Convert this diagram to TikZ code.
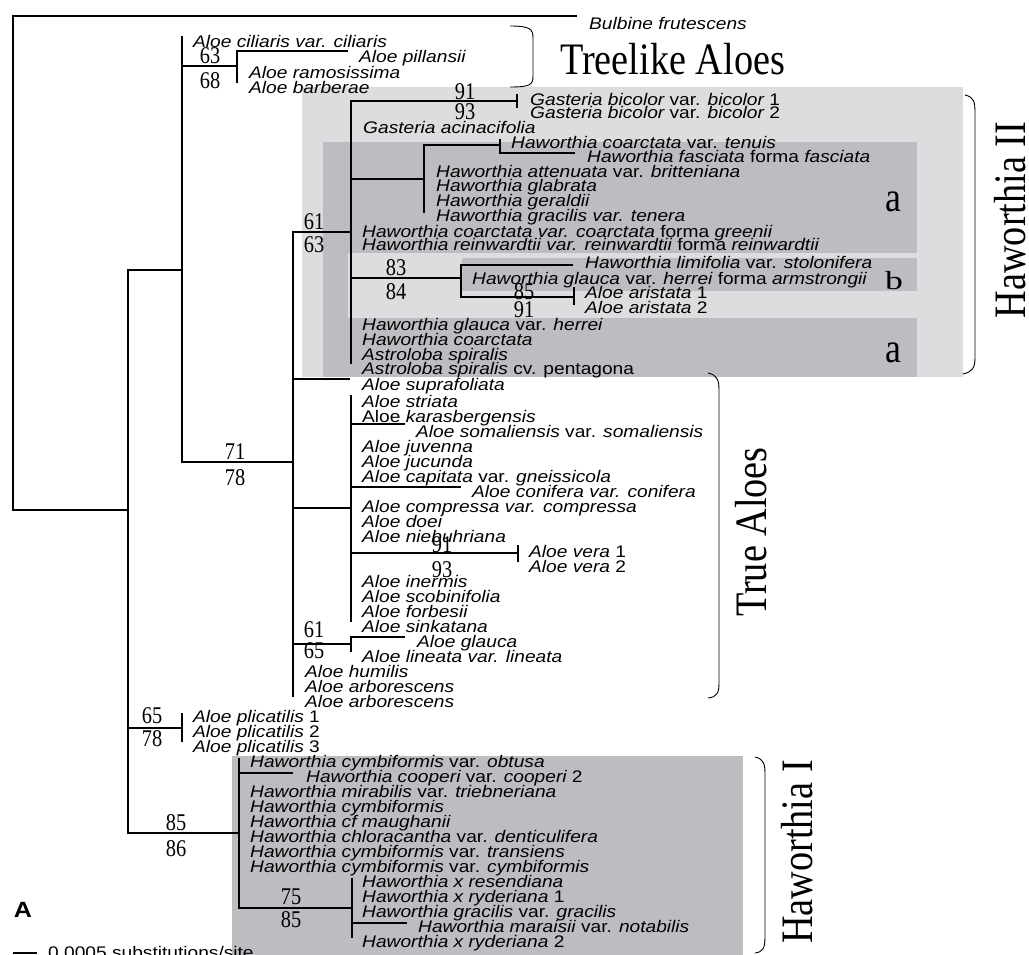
\documentclass[tikz,border=0pt]{standalone}
\usepackage{fontspec}
\usepackage{graphicx}
\newfontfamily\taxfont[FakeStretch=1.14]{Liberation Sans}
\newfontfamily\grpfont[FakeStretch=0.85]{Liberation Serif}
\usetikzlibrary{calc}
\definecolor{grplight}{HTML}{DCDDDF}
\definecolor{grpdark}{HTML}{BCBDC1}
\newcommand{\ro}[1]{{\upshape #1}}

\begin{document}
\begin{tikzpicture}[x=1pt,y=-1pt,
  branch/.style={line width=1.9pt},
  brace/.style={line width=0.9pt},
  taxon/.style={anchor=base west, inner sep=0pt, font=\taxfont\fontsize{16.8}{17}\selectfont\itshape},
  boot/.style={inner sep=0pt, font=\grpfont\fontsize{24}{24}\selectfont},
  clade/.style={inner sep=0pt, font=\grpfont\fontsize{45}{45}\selectfont},
  subclade/.style={inner sep=0pt, font=\grpfont\fontsize{42}{42}\selectfont}]
\useasboundingbox (0,0) rectangle (1029,955);

% shaded groups
\fill[grplight] (302,87) rectangle (963,377);
\fill[grpdark] (323,142) rectangle (917,377);
\fill[grplight] (348,253) rectangle (917,318);
\fill[grpdark] (462,258) rectangle (917,291);
\fill[grpdark] (232,756) rectangle (743,955);

% internal nodes and tips
\coordinate (bulb) at (577,16);
\coordinate (root) at (13,510);
\coordinate (n1) at (128,510);
\coordinate (n2) at (182,270);
\coordinate (cil) at (182,36);
\coordinate (n3) at (237,66);
\coordinate (n3b) at (237,83);
\coordinate (pil) at (348,51);
\coordinate (n4) at (293,462);
\coordinate (n4b) at (293,697);
\coordinate (supr) at (350,379);
\coordinate (n5) at (351,232);
\coordinate (n5b) at (351,364);
\coordinate (n6) at (517,101);
\coordinate (n7) at (424,179);
\coordinate (n7b) at (424,213);
\coordinate (n8) at (500,145);
\coordinate (n8t) at (500,139);
\coordinate (fasc) at (575,153);
\coordinate (n9) at (461,278);
\coordinate (limi) at (573,265);
\coordinate (n10) at (574,297);
\coordinate (n11) at (351,508);
\coordinate (n11t) at (351,395);
\coordinate (n11b) at (351,622);
\coordinate (soma) at (405,424);
\coordinate (coni) at (461,487);
\coordinate (n12) at (518,553);
\coordinate (n13) at (351,644);
\coordinate (n13b) at (351,652);
\coordinate (glau) at (405,637);
\coordinate (n14) at (182,728);
\coordinate (n15) at (239,833);
\coordinate (n15t) at (239,758);
\coordinate (coop) at (293,773);
\coordinate (n16) at (352,908);
\coordinate (n16t) at (352,878);
\coordinate (n16b) at (352,938);
\coordinate (mara) at (407,923);

% branches
\draw[branch] (bulb) -| (root) -- (n1);
\draw[branch] (n2) -| (n1) |- (n15);
\draw[branch] (n1 |- n14) -- (n14);
\draw[branch] (cil) -- (n2) |- (n4);
\draw[branch] (n2 |- n3) -- (n3);
\draw[branch] (pil) -| (n3b);
\draw[branch] (n5) -| (n4b);
\draw[branch] (n4 |- supr) -- (supr);
\draw[branch] (n4 |- n11) -- (n11);
\draw[branch] (n4 |- n13) -- (n13);
\draw[branch] (n6) -| (n5b);
\draw[branch] (n5 |- n7) -- (n7);
\draw[branch] (n5 |- n9) -- (n9);
\draw[branch] ($(n6)+(0,-7)$) -- ($(n6)+(0,7)$);
\draw[branch] (n8) -| (n7b);
\draw[branch] (n8t) -- (n8) |- (fasc);
\draw[branch] (limi) -| (n9) |- (n10);
\draw[branch] ($(n10)+(0,-10)$) -- ($(n10)+(0,8)$);
\draw[branch] (n11t) -- (n11b);
\draw[branch] (n11 |- soma) -- (soma);
\draw[branch] (n11 |- coni) -- (coni);
\draw[branch] (n11 |- n12) -- (n12);
\draw[branch] ($(n12)+(0,-8)$) -- ($(n12)+(0,9)$);
\draw[branch] (glau) -| (n13b);
\draw[branch] ($(n14)+(0,-15)$) -- ($(n14)+(0,14)$);
\draw[branch] (n15t) -- (n15) |- (n16);
\draw[branch] (n15 |- coop) -- (coop);
\draw[branch] (n16t) -- (n16b);
\draw[branch] (n16 |- mara) -- (mara);

% bootstrap values
\node[boot] (b1a) at (210,56) {63};
\node[boot] (b1b) at (210,81) {68};
\node[boot] (b2a) at (465,92) {91};
\node[boot] (b2b) at (465,112) {93};
\node[boot] (b3a) at (314,222) {61};
\node[boot] (b3b) at (314,245) {63};
\node[boot] (b4a) at (396,268) {83};
\node[boot] (b4b) at (396,292) {84};
\node[boot] (b5a) at (524,292) {85};
\node[boot] (b5b) at (524,310) {91};
\node[boot] (b6a) at (235,452) {71};
\node[boot] (b6b) at (235,478) {78};
\node[boot] (b7a) at (442,545) {91};
\node[boot] (b7b) at (442,570) {93};
\node[boot] (b8a) at (314,630) {61};
\node[boot] (b8b) at (314,651) {65};
\node[boot] (b9a) at (152,716) {65};
\node[boot] (b9b) at (152,739) {78};
\node[boot] (b10a) at (176,823) {85};
\node[boot] (b10b) at (176,849) {86};
\node[boot] (b11a) at (291,897) {75};
\node[boot] (b11b) at (291,920) {85};

% taxa
\node[taxon] (t00) at (589,30) {Bulbine frutescens};
\node[taxon] (t01) at (193,47.5) {Aloe ciliaris var. ciliaris};
\node[taxon] (t02) at (359,62.5) {Aloe pillansii};
\node[taxon] (t03) at (249,78.5) {Aloe ramosissima};
\node[taxon] (t04) at (249,94) {Aloe barberae};
\node[taxon] (t05) at (530,106) {Gasteria bicolor \ro{var.} bicolor \ro{1}};
\node[taxon] (t06) at (530,119) {Gasteria bicolor \ro{var.} bicolor \ro{2}};
\node[taxon] (t07) at (363,134) {Gasteria acinacifolia};
\node[taxon] (t08) at (511,149) {Haworthia coarctata \ro{var.} tenuis};
\node[taxon] (t09) at (587,163) {Haworthia fasciata \ro{forma} fasciata};
\node[taxon] (t10) at (436,178) {Haworthia attenuata \ro{var.} britteniana};
\node[taxon] (t11) at (436,192) {Haworthia glabrata};
\node[taxon] (t12) at (436,207) {Haworthia geraldii};
\node[taxon] (t13) at (436,222) {Haworthia gracilis var. tenera};
\node[taxon] (t14) at (362,237) {Haworthia coarctata var. coarctata \ro{forma} greenii};
\node[taxon] (t15) at (362,251) {Haworthia reinwardtii var. reinwardtii \ro{forma} reinwardtii};
\node[taxon] (t16) at (585,269) {Haworthia limifolia \ro{var.} stolonifera};
\node[taxon] (t17) at (472,284) {Haworthia glauca \ro{var.} herrei \ro{forma} armstrongii};
\node[taxon] (t18) at (585,298) {Aloe aristata \ro{1}};
\node[taxon] (t19) at (585,313) {Aloe aristata \ro{2}};
\node[taxon] (t20) at (362,330) {Haworthia glauca \ro{var.} herrei};
\node[taxon] (t21) at (362,345) {Haworthia coarctata};
\node[taxon] (t22) at (362,360) {Astroloba spiralis};
\node[taxon] (t23) at (362,374) {Astroloba spiralis \ro{cv. pentagona}};
\node[taxon] (t24) at (362,390) {Aloe suprafoliata};
\node[taxon] (t25) at (362,407) {Aloe striata};
\node[taxon] (t26) at (362,422) {\ro{Aloe} karasbergensis};
\node[taxon] (t27) at (416,437) {Aloe somaliensis \ro{var.} somaliensis};
\node[taxon] (t28) at (362,452) {Aloe juvenna};
\node[taxon] (t29) at (362,467) {Aloe jucunda};
\node[taxon] (t30) at (362,482) {Aloe capitata \ro{var.} gneissicola};
\node[taxon] (t31) at (472,497) {Aloe conifera var. conifera};
\node[taxon] (t32) at (362,512) {Aloe compressa var. compressa};
\node[taxon] (t33) at (362,527) {Aloe doei};
\node[taxon] (t34) at (362,542) {Aloe niebuhriana};
\node[taxon] (t35) at (529,557) {Aloe vera \ro{1}};
\node[taxon] (t36) at (529,572) {Aloe vera \ro{2}};
\node[taxon] (t37) at (362,587) {Aloe inermis};
\node[taxon] (t38) at (362,602) {Aloe scobinifolia};
\node[taxon] (t39) at (362,617) {Aloe forbesii};
\node[taxon] (t40) at (362,632) {Aloe sinkatana};
\node[taxon] (t41) at (417,647) {Aloe glauca};
\node[taxon] (t42) at (362,662) {Aloe lineata var. lineata};
\node[taxon] (t43) at (305,677) {Aloe humilis};
\node[taxon] (t44) at (305,692) {Aloe arborescens};
\node[taxon] (t45) at (305,707) {Aloe arborescens};
\node[taxon] (t46) at (193,722) {Aloe plicatilis \ro{1}};
\node[taxon] (t47) at (193,737) {Aloe plicatilis \ro{2}};
\node[taxon] (t48) at (193,752) {Aloe plicatilis \ro{3}};
\node[taxon] (t49) at (250,767) {Haworthia cymbiformis \ro{var.} obtusa};
\node[taxon] (t50) at (306,782) {Haworthia cooperi \ro{var.} cooperi \ro{2}};
\node[taxon] (t51) at (250,797) {Haworthia mirabilis \ro{var.} triebneriana};
\node[taxon] (t52) at (250,812) {Haworthia cymbiformis};
\node[taxon] (t53) at (250,827) {Haworthia cf maughanii};
\node[taxon] (t54) at (250,842) {Haworthia chloracantha \ro{var.} denticulifera};
\node[taxon] (t55) at (250,857) {Haworthia cymbiformis \ro{var.} transiens};
\node[taxon] (t56) at (250,872) {Haworthia cymbiformis \ro{var.} cymbiformis};
\node[taxon] (t57) at (362,887) {Haworthia x resendiana};
\node[taxon] (t58) at (362,902) {Haworthia x ryderiana \ro{1}};
\node[taxon] (t59) at (362,917) {Haworthia gracilis \ro{var.} gracilis};
\node[taxon] (t60) at (418,932) {Haworthia maraisii \ro{var.} notabilis};
\node[taxon] (t61) at (362,947) {Haworthia x ryderiana \ro{2}};

% group braces and names
\draw[brace] (510,26) .. controls (530,26) and (533,29) .. (533,38) -- (533,76) .. controls (533,85) and (530,87) .. (510,87);
\draw[brace] (965,95) .. controls (974,97) and (975,102) .. (975,113) -- (975,358) .. controls (975,368) and (972,372) .. (963,374);
\draw[brace] (708,373) .. controls (717,375) and (719,380) .. (719,390) -- (719,683) .. controls (719,693) and (717,697) .. (708,698);
\draw[brace] (755,757) .. controls (764,759) and (765,764) .. (765,775) -- (765,937) .. controls (765,948) and (763,952) .. (755,953);
\node[clade, anchor=base west] (tree) at (560,75) {Treelike Aloes};
\node[clade, rotate=90] (hw2) at (1010,220) {Haworthia II};
\node[clade, rotate=90] (true) at (751,532) {True Aloes};
\node[clade, rotate=90] (hw1) at (797,852) {Haworthia I};
\node[subclade] (suba1) at (893,202) {a};
\node[subclade] (subb) at (894,281) {\scalebox{1}[0.62]{b}};
\node[subclade] (suba2) at (893,353) {a};

% panel letter and scale
\node[inner sep=0pt, font=\taxfont\fontsize{22}{22}\selectfont\bfseries] (panel) at (23,910) {A};
\coordinate (sc1) at (13,953);
\coordinate (sc2) at (37,953);
\draw[line width=1.2pt] (sc1) -- (sc2);
\node[anchor=base west, inner sep=0pt, font=\taxfont\fontsize{16.8}{17}\selectfont] (scl) at (48,958) {0.0005 substitutions/site};
\end{tikzpicture}
\end{document}
